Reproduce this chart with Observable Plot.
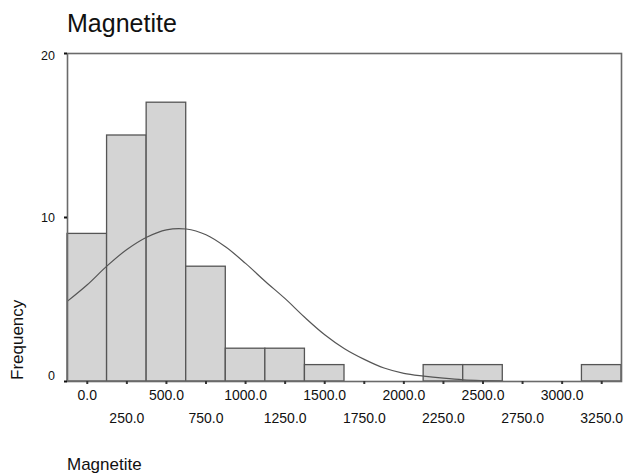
<!DOCTYPE html>
<html>
<head>
<meta charset="utf-8">
<script src="https://cdn.jsdelivr.net/npm/d3@7"></script>
<script src="https://cdn.jsdelivr.net/npm/@observablehq/plot@0.6"></script>
<style>
  html, body { margin: 0; padding: 0; background: #fff; }
  #chart { width: 624px; height: 475px; }
  svg text { font-family: "Liberation Sans", Arial, sans-serif; }
</style>
</head>
<body>
<div id="chart"></div>
<script>
// Histogram of Magnetite, bins 250 wide centred on the tick values
const binCenters = [0, 250, 500, 750, 1000, 1250, 1500, 1750, 2000, 2250, 2500, 2750, 3000, 3250];
const frequencies = [9, 15, 17, 7, 2, 2, 1, 0, 0, 1, 1, 0, 0, 1];
const binWidth = 250;

// Fitted normal curve, sampled every 125 units
const curveX = [-125, 0, 125, 250, 375, 500, 625, 750, 875, 1000, 1125, 1250, 1375, 1500, 1625, 1750, 1875, 2000, 2125, 2250, 2375, 2500, 2625];
const curveY = [4.9, 5.9, 7.05, 8.05, 8.8, 9.25, 9.3, 8.95, 8.2, 7.2, 6.1, 5.05, 3.9, 2.85, 2.0, 1.35, 0.82, 0.5, 0.33, 0.2, 0.1, 0.05, 0.02];

const yTicks = [0, 10, 20];
const xTicksRow1 = binCenters.filter((d, i) => i % 2 === 0);
const xTicksRow2 = binCenters.filter((d, i) => i % 2 === 1);

const bars = binCenters
  .map((c, i) => ({x1: c - binWidth / 2, x2: c + binWidth / 2, count: frequencies[i]}))
  .filter(d => d.count > 0);
const curve = curveX.map((x, i) => ({x, y: curveY[i]}));

const fmt = d => d.toFixed(1);
// y labels only (no tick marks), so that single labels can be nudged
const yLabelStyle = {tickSize: 0, tickPadding: 12.5, fontSize: 12.5, fill: "#111", label: null};
const xAxisStyle = {tickSize: 3, stroke: "#333", strokeWidth: 2, tickFormat: fmt, fontSize: 14, fill: "#111", label: null};

const plot = Plot.plot({
  width: 624,
  height: 475,
  marginTop: 53,
  marginLeft: 67,
  marginRight: 3,
  marginBottom: 94,
  style: {fontFamily: '"Liberation Sans", Arial, sans-serif', background: "#fff"},
  x: {domain: [-125, 3375]},
  y: {domain: [0, 20]},
  marks: [
    Plot.rectY(bars, {x1: "x1", x2: "x2", y: "count", fill: "#d4d4d4", stroke: "#555", strokeWidth: 1.3}),
    Plot.line(curve, {x: "x", y: "y", stroke: "#555", strokeWidth: 1.2, curve: "catmull-rom"}),
    Plot.frame({stroke: "#6a6a6a", strokeWidth: 1.6}),
    // y tick marks
    Plot.axisY(yTicks, {tickSize: 3, stroke: "#111", strokeWidth: 2, tickFormat: () => "", label: null}),
    // the zero label sits a little above its tick, clear of the x axis
    Plot.axisY(yTicks.slice(0, 1), {...yLabelStyle, dy: -6}),
    Plot.axisY(yTicks.slice(1, 2), yLabelStyle),
    Plot.axisY(yTicks.slice(2), {...yLabelStyle, dy: 2}),
    Plot.axisX(xTicksRow1, {...xAxisStyle, tickPadding: 6}),
    Plot.axisX(xTicksRow2, {...xAxisStyle, tickPadding: 29})
  ]
});

const svg = d3.select(plot);

// Chart title
svg.append("text")
  .attr("x", 67).attr("y", 31.5)
  .attr("text-anchor", "start")
  .attr("font-size", 25).attr("fill", "#111")
  .text("Magnetite");

// Vertical axis title
svg.append("text")
  .attr("transform", "translate(22.5,380) rotate(-90)")
  .attr("text-anchor", "start")
  .attr("font-size", 17).attr("fill", "#111")
  .text("Frequency");

// Horizontal axis title
svg.append("text")
  .attr("x", 67).attr("y", 470)
  .attr("text-anchor", "start")
  .attr("font-size", 17).attr("fill", "#111")
  .text("Magnetite");

document.getElementById("chart").appendChild(plot);
</script>
</body>
</html>
